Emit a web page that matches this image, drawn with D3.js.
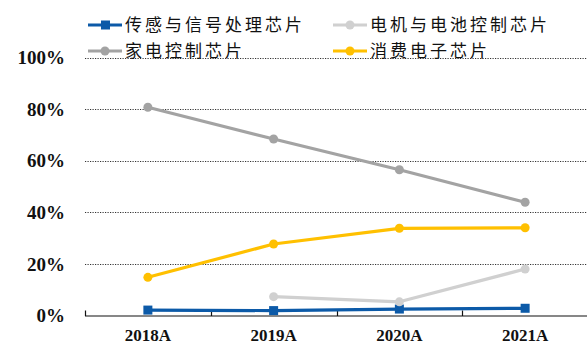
<!DOCTYPE html>
<html>
<head>
<meta charset="utf-8">
<script src="https://cdn.jsdelivr.net/npm/d3@7"></script>
<style>
  html, body { margin: 0; padding: 0; background: #fff; }
  svg { display: block; }
</style>
</head>
<body>
<svg id="chart" width="587" height="344"></svg>
<script>
// Categories and series (share of revenue, %)
const years = ["2018A", "2019A", "2020A", "2021A"];
const sensorChips = [2.1, 1.9, 2.5, 2.8];        // 传感与信号处理芯片
const motorBatteryChips = [null, 7.3, 5.3, 18.0]; // 电机与电池控制芯片
const applianceChips = [80.7, 68.4, 56.5, 43.9];  // 家电控制芯片
const consumerChips = [14.8, 27.7, 33.8, 34.0];   // 消费电子芯片
const yTicks = [0, 20, 40, 60, 80, 100];

const series = [
  { name: "传感与信号处理芯片", values: sensorChips, color: "#0c5aa8", marker: "square" },
  { name: "电机与电池控制芯片", values: motorBatteryChips, color: "#d0d0d0", marker: "circle" },
  { name: "家电控制芯片", values: applianceChips, color: "#a3a3a3", marker: "circle" },
  { name: "消费电子芯片", values: consumerChips, color: "#ffc000", marker: "circle" }
];

const svg = d3.select("#chart");
const plotLeft = 85, plotRight = 588, plotTop = 57.5, plotBottom = 315.5;

const x = d3.scaleBand().domain(years).range([plotLeft, plotRight]).padding(0);
const y = d3.scaleLinear().domain([0, 100]).range([plotBottom, plotTop]);

// Dotted gridlines
svg.append("g")
  .selectAll("line")
  .data(yTicks.filter(d => d > 0))
  .join("line")
  .attr("x1", plotLeft).attr("x2", plotRight)
  .attr("y1", d => Math.round(y(d)) + 0.5).attr("y2", d => Math.round(y(d)) + 0.5)
  .attr("stroke", "#333").attr("stroke-width", 1)
  .attr("stroke-dasharray", "1.2,1.3");

// Y axis labels
svg.append("g")
  .selectAll("text")
  .data(yTicks)
  .join("text")
  .attr("x", 65)
  .attr("y", d => y(d))
  .attr("dy", "0.35em")
  .attr("text-anchor", "end")
  .attr("font-family", "'Liberation Serif', 'Times New Roman', serif")
  .attr("font-weight", "bold")
  .attr("font-size", 19)
  .attr("fill", "#111")
  .text(d => d + "%");

// X axis with boundary ticks pointing up
const xAxis = svg.append("g");
xAxis.append("line")
  .attr("x1", plotLeft).attr("x2", plotRight)
  .attr("y1", plotBottom + 0.5).attr("y2", plotBottom + 0.5)
  .attr("stroke", "#111").attr("stroke-width", 1.2);
const boundaries = years.map(d => x(d)).concat([x(years[years.length - 1]) + x.bandwidth()]);
xAxis.selectAll("line.tick")
  .data(boundaries)
  .join("line")
  .attr("class", "tick")
  .attr("x1", d => Math.round(d) + 0.5).attr("x2", d => Math.round(d) + 0.5)
  .attr("y1", plotBottom - 5).attr("y2", plotBottom + 0.5)
  .attr("stroke", "#111").attr("stroke-width", 1.2);
xAxis.selectAll("text")
  .data(years)
  .join("text")
  .attr("x", d => x(d) + x.bandwidth() / 2)
  .attr("y", 341)
  .attr("text-anchor", "middle")
  .attr("font-family", "'Liberation Serif', 'Times New Roman', serif")
  .attr("font-weight", "bold")
  .attr("font-size", 17)
  .attr("fill", "#111")
  .text(d => d);

const cx = d => x(d) + x.bandwidth() / 2;
const line = d3.line()
  .defined(d => d.v != null)
  .x(d => cx(d.year))
  .y(d => y(d.v));

// Series lines and markers
series.forEach(s => {
  const pts = years.map((yr, i) => ({ year: yr, v: s.values[i] }));
  const g = svg.append("g");
  g.append("path")
    .datum(pts)
    .attr("d", line)
    .attr("fill", "none")
    .attr("stroke", s.color)
    .attr("stroke-width", 3.2)
    .attr("stroke-linejoin", "round");
  const valid = pts.filter(d => d.v != null);
  if (s.marker === "square") {
    g.selectAll("rect")
      .data(valid)
      .join("rect")
      .attr("x", d => cx(d.year) - 4.5)
      .attr("y", d => y(d.v) - 4.5)
      .attr("width", 9).attr("height", 9)
      .attr("fill", s.color);
  } else {
    g.selectAll("circle")
      .data(valid)
      .join("circle")
      .attr("cx", d => cx(d.year))
      .attr("cy", d => y(d.v))
      .attr("r", 4.5)
      .attr("fill", s.color);
  }
});

// Legend (two columns, two rows)
const legendPos = [
  { x: 88, y: 25 },
  { x: 333, y: 25 },
  { x: 88, y: 51 },
  { x: 333, y: 51 }
];
const legend = svg.append("g");
series.forEach((s, i) => {
  const p = legendPos[i];
  const g = legend.append("g").attr("transform", `translate(${p.x},${p.y})`);
  g.append("line")
    .attr("x1", 0).attr("x2", 34)
    .attr("y1", 0).attr("y2", 0)
    .attr("stroke", s.color).attr("stroke-width", 3.2);
  if (s.marker === "square") {
    g.append("rect").attr("x", 13).attr("y", -4.5).attr("width", 9).attr("height", 9).attr("fill", s.color);
  } else {
    g.append("circle").attr("cx", 17).attr("cy", 0).attr("r", 4.5).attr("fill", s.color);
  }
  g.append("text")
    .attr("x", 37)
    .attr("y", 0)
    .attr("dy", "0.36em")
    .attr("font-family", "'Noto Sans CJK SC', sans-serif")
    .attr("font-size", 17)
    .attr("letter-spacing", 3)
    .attr("fill", "#111")
    .text(s.name);
});
</script>
</body>
</html>
